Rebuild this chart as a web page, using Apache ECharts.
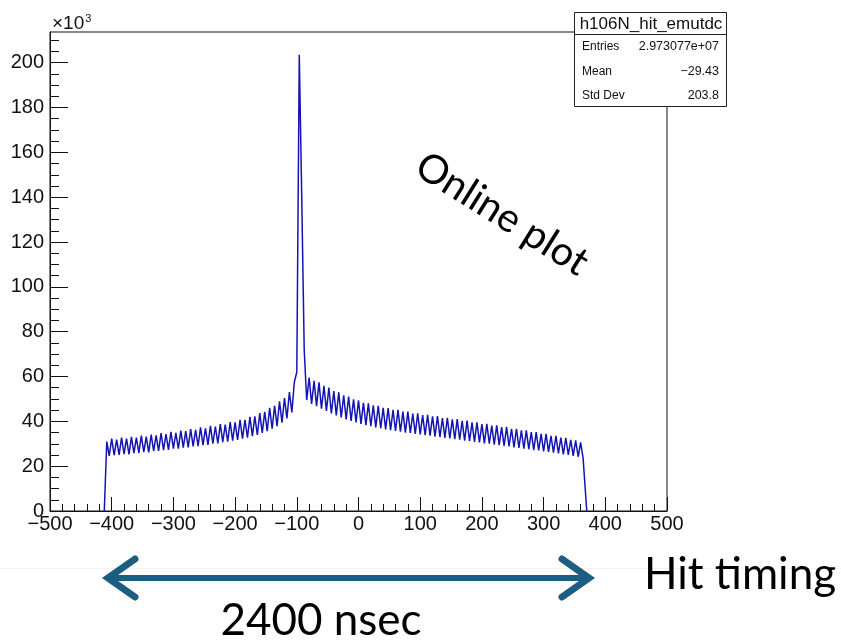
<!DOCTYPE html>
<html>
<head>
<meta charset="utf-8">
<script src="https://cdn.jsdelivr.net/npm/echarts@6/dist/echarts.min.js"></script>
<style>
  html, body { margin: 0; padding: 0; background: #ffffff; }
  #chart { width: 841px; height: 642px; }
</style>
</head>
<body>
<div id="chart"></div>
<script>
// h106N_hit_emutdc — TDC hit timing histogram, bin contents in units of 10^3 entries.
const binWidth = 4;
const firstBinCenter = -408;

// Bins at firstBinCenter + 8k (upper edge of the zig-zag, incl. the prompt peak)
const evenBinCounts = [
  31.0, 32.3, 31.9, 32.7, 32.3, 33.1, 32.7, 33.6, 33.2, 34.1,
  33.7, 34.7, 34.3, 35.3, 34.9, 35.9, 35.6, 36.5, 36.2, 37.3,
  36.9, 38.0, 37.7, 38.8, 38.5, 39.7, 39.5, 40.7, 40.7, 42.0,
  42.2, 43.7, 44.2, 46.0, 46.9, 48.9, 50.4, 53.1, 57.5, 203.5,
  72.0, 59.5, 58.1, 57.4, 55.8, 55.1, 53.5, 53.0, 51.6, 51.1,
  49.8, 49.4, 48.3, 48.0, 47.1, 46.9, 46.0, 45.9, 45.1, 45.1,
  44.3, 44.3, 43.5, 43.6, 42.8, 42.9, 42.2, 42.3, 41.5, 41.6,
  40.9, 41.0, 40.2, 40.3, 39.5, 39.6, 38.8, 38.9, 38.1, 38.2,
  37.4, 37.5, 36.7, 36.7, 36.0, 36.0, 35.2, 35.2, 34.4, 34.4,
  33.5, 33.5, 32.7, 32.6, 31.7, 31.5, 30.6
];

// Bins at firstBinCenter + 8k + 4 (lower edge of the zig-zag)
const oddBinCounts = [
  24.6, 24.9, 25.0, 25.4, 25.3, 25.8, 25.9, 26.3, 26.2, 26.7,
  26.8, 27.2, 27.3, 27.8, 27.8, 28.3, 28.4, 28.8, 28.9, 29.4,
  29.5, 30.0, 30.2, 30.7, 30.9, 31.4, 31.7, 32.3, 32.7, 33.4,
  33.9, 34.8, 35.6, 36.7, 37.8, 39.4, 41.3, 44.0, 62.0, 140.0,
  49.5, 47.8, 46.8, 45.6, 44.6, 43.5, 42.6, 41.7, 40.9, 40.2,
  39.5, 38.9, 38.3, 37.8, 37.3, 36.9, 36.4, 36.1, 35.7, 35.4,
  35.0, 34.8, 34.4, 34.2, 33.8, 33.6, 33.2, 33.0, 32.6, 32.4,
  32.0, 31.8, 31.4, 31.2, 30.8, 30.6, 30.2, 30.0, 29.6, 29.4,
  29.0, 28.8, 28.4, 28.2, 27.8, 27.6, 27.2, 27.0, 26.6, 26.4,
  26.0, 25.7, 25.3, 25.0, 24.6, 24.2, 23.6
];

// Empty bins just outside the filled window
const leadingEmptyBin = -412;
const trailingEmptyBin = 370;

const xMin = -500, xMax = 500, xStep = 100;
const yMax = 213.7;
const yMajorTicks = [0, 20, 40, 60, 80, 100, 120, 140, 160, 180, 200];
const yMinorTicks = [5, 10, 15, 25, 30, 35, 45, 50, 55, 65, 70, 75, 85, 90, 95,
  105, 110, 115, 125, 130, 135, 145, 150, 155, 165, 170, 175, 185, 190, 195, 205, 210];

const statsTitle = 'h106N_hit_emutdc';
const statsNames = ['Entries', 'Mean', 'Std Dev'];
const statsValues = ['2.973077e+07', '\u221229.43', '203.8'];

const annotationText = 'Online plot';
const axisCaption = 'Hit timing';
const spanCaption = '2400 nsec';

// Build the histogram polyline through bin centres
const histData = [[leadingEmptyBin, 0]];
for (let k = 0; k < evenBinCounts.length; k++) {
  const c = firstBinCenter + 2 * k * binWidth;
  histData.push([c, evenBinCounts[k]]);
  histData.push([c + binWidth, oddBinCounts[k]]);
}
histData.push([trailingEmptyBin, 0]);

const axisFont = 'Liberation Sans, Arial, sans-serif';
const slideFont = 'Lato, sans-serif';
const arrowColor = '#1b5e82';

const chart = echarts.init(document.getElementById('chart'), null, { renderer: 'canvas' });

const statsGraphics = [
  { type: 'rect', shape: { x: 574.5, y: 12.5, width: 152, height: 94 },
    style: { fill: '#ffffff', stroke: '#222222', lineWidth: 1 }, z: 10 },
  { type: 'line', shape: { x1: 574.5, y1: 34.5, x2: 726.5, y2: 34.5 },
    style: { stroke: '#222222', lineWidth: 1 }, z: 11 },
  { type: 'text', x: 651, y: 24, z: 11,
    style: { text: statsTitle, font: '17px ' + axisFont, fill: '#111', align: 'center', verticalAlign: 'middle' } }
];
statsNames.forEach((name, i) => {
  const y = 47 + i * 24.5;
  statsGraphics.push({ type: 'text', x: 582, y: y, z: 11,
    style: { text: name, font: '12px ' + axisFont, fill: '#111', align: 'left', verticalAlign: 'middle' } });
  statsGraphics.push({ type: 'text', x: 719, y: y, z: 11,
    style: { text: statsValues[i], font: '12.5px ' + axisFont, fill: '#111', align: 'right', verticalAlign: 'middle' } });
});

const arrowY = 578;
const arrowLeft = 108, arrowRight = 589;
const headDx = 27, headDy = 19;
const arrowGraphics = [
  { type: 'line', shape: { x1: arrowLeft + 4, y1: arrowY, x2: arrowRight - 4, y2: arrowY },
    style: { stroke: arrowColor, lineWidth: 6 } },
  { type: 'polyline', shape: { points: [[arrowLeft + headDx, arrowY - headDy], [arrowLeft, arrowY], [arrowLeft + headDx, arrowY + headDy]] },
    style: { stroke: arrowColor, lineWidth: 7, lineCap: 'round', lineJoin: 'miter', fill: null } },
  { type: 'polyline', shape: { points: [[arrowRight - headDx, arrowY - headDy], [arrowRight, arrowY], [arrowRight - headDx, arrowY + headDy]] },
    style: { stroke: arrowColor, lineWidth: 7, lineCap: 'round', lineJoin: 'miter', fill: null } }
];

const option = {
  animation: false,
  backgroundColor: '#ffffff',
  grid: {
    left: 50, right: 174, top: 32, bottom: 131,
    show: true, borderColor: '#111111', borderWidth: 1, backgroundColor: 'transparent'
  },
  xAxis: {
    type: 'value', min: xMin, max: xMax, interval: xStep,
    axisLine: { show: true, onZero: false, lineStyle: { color: '#111', width: 1 } },
    axisTick: { show: true, inside: true, length: 14, lineStyle: { color: '#111' } },
    minorTick: { show: true, splitNumber: 5, length: 7, lineStyle: { color: '#111' } },
    splitLine: { show: false },
    axisLabel: {
      fontFamily: axisFont, fontSize: 20, color: '#111', margin: 3,
      formatter: v => String(v).replace('-', '\u2212')
    }
  },
  yAxis: [
    {
      type: 'value', min: 0, max: yMax, position: 'left',
      axisLine: { show: true, onZero: false, lineStyle: { color: '#111', width: 1 } },
      axisTick: { show: true, inside: true, length: 18, customValues: yMajorTicks, lineStyle: { color: '#111' } },
      axisLabel: { fontFamily: axisFont, fontSize: 20, color: '#111', margin: 6, customValues: yMajorTicks },
      splitLine: { show: false }
    },
    {
      type: 'value', min: 0, max: yMax, position: 'left',
      axisLine: { show: false, onZero: false },
      axisTick: { show: true, inside: true, length: 9, customValues: yMinorTicks, lineStyle: { color: '#111' } },
      axisLabel: { show: false },
      splitLine: { show: false }
    }
  ],
  series: [{
    type: 'line',
    data: histData,
    yAxisIndex: 0,
    showSymbol: false,
    symbol: 'none',
    sampling: null,
    lineStyle: { color: '#1414b4', width: 1.5 },
    z: 3
  }],
  graphic: [
    // exponent marker of the y axis
    { type: 'text', x: 52, y: 24,
      style: { text: '{b|\u00d710}{s|3}', font: '19px ' + axisFont, fill: '#111', verticalAlign: 'middle',
        rich: { b: { fontSize: 19, fontFamily: axisFont, fill: '#111' },
                s: { fontSize: 11, fontFamily: axisFont, fill: '#111', verticalAlign: 'top', padding: [0, 0, 11, 1] } } } },
    ...statsGraphics,
    { type: 'text', x: 502, y: 214, rotation: -0.56,
      style: { text: annotationText, font: '40px ' + slideFont, fill: '#000', align: 'center', verticalAlign: 'middle' } },
    { type: 'line', shape: { x1: 0, y1: 568.5, x2: 841, y2: 568.5 }, style: { stroke: '#f2f2f2', lineWidth: 1 } },
    ...arrowGraphics,
    { type: 'text', x: 740, y: 575,
      style: { text: axisCaption, font: '44px ' + slideFont, fill: '#000', align: 'center', verticalAlign: 'middle' } },
    { type: 'text', x: 321, y: 621,
      style: { text: spanCaption, font: '44px ' + slideFont, fill: '#000', align: 'center', verticalAlign: 'middle' } }
  ]
};

chart.setOption(option);
</script>
</body>
</html>
